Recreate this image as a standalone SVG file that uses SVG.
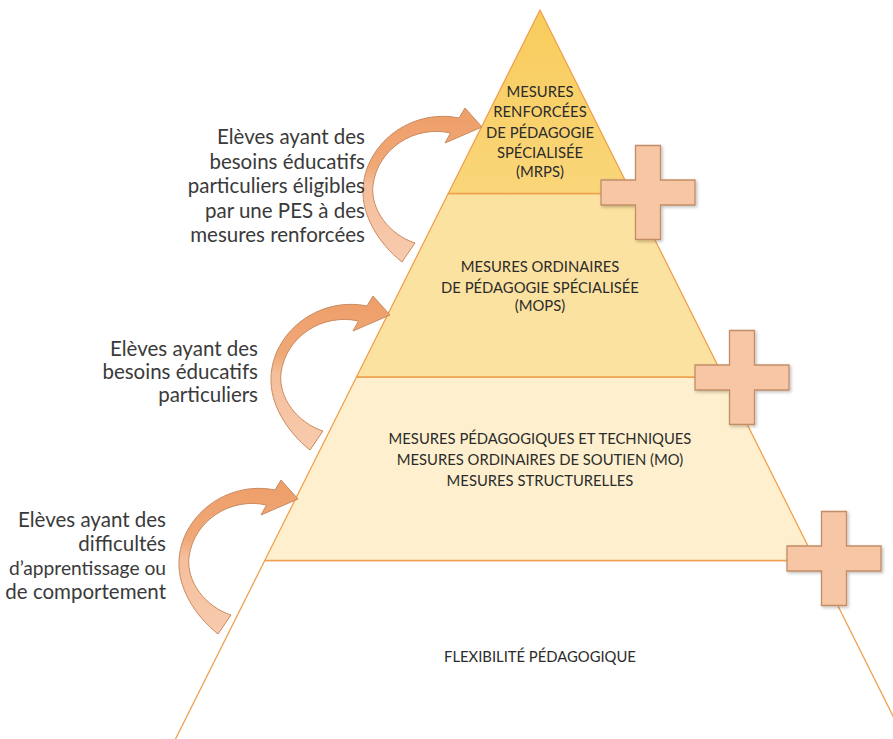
<svg xmlns="http://www.w3.org/2000/svg" width="893" height="739" viewBox="0 0 893 739">
<style>
.layer{stroke:#F0A04E;stroke-width:1.3;stroke-linejoin:round}
.lt{font-family:Lato,"Liberation Sans",sans-serif;font-size:14.8px;fill:#2b2b2b;text-anchor:middle}
.st{font-family:Lato,"Liberation Sans",sans-serif;font-size:20.5px;fill:#3a3a3a;text-anchor:end}
.cross{fill:#F7C6A5;stroke:#C38D66;stroke-width:1.3}
.arrow{fill:url(#ag);stroke:#C98B60;stroke-width:1}
</style>
<defs>
<linearGradient id="g1" x1="0" y1="0" x2="0" y2="1">
<stop offset="0" stop-color="#F8CC5C"/><stop offset="1" stop-color="#FAD67A"/>
</linearGradient>
<linearGradient id="ag" x1="0" y1="0" x2="0" y2="1">
<stop offset="0" stop-color="#EE9E69"/><stop offset="0.38" stop-color="#F0A877"/><stop offset="0.5" stop-color="#F5BE9B"/><stop offset="1" stop-color="#F8CBAE"/>
</linearGradient>
<filter id="sh" x="-20%" y="-20%" width="140%" height="140%">
<feDropShadow dx="1.5" dy="1.5" stdDeviation="1.5" flood-color="#000" flood-opacity="0.25"/>
</filter>
<path id="arrowShape" class="arrow" d="M402,262 C378,243 362,215 363,190 C364,145 410,108 459,118 L465,108 L482,127 L445,143 L450.5,133 C415,125 378,148 373,185 C370,210 390,235 415,243 Z"/>
<path id="crossShape" class="cross" d="M-12.5,-47 H12.5 V-12.5 H47 V12.5 H12.5 V47 H-12.5 V12.5 H-47 V-12.5 H-12.5 Z"/>
</defs>
<rect width="893" height="739" fill="#FFFFFF"/>

<g id="layer-flexibilite">
<polygon class="layer" fill="#FFFFFF" points="264.75,560.5 815.25,560.5 907,744 173,744"/>
<text class="lt" x="540" y="662">FLEXIBILITÉ PÉDAGOGIQUE</text>
</g>
<g id="layer-mo">
<polygon class="layer" fill="#FEF0CE" points="356.5,377 723.5,377 815.25,560.5 264.75,560.5"/>
<text class="lt" x="540" y="444">MESURES PÉDAGOGIQUES ET TECHNIQUES</text>
<text class="lt" x="540" y="465">MESURES ORDINAIRES DE SOUTIEN (MO)</text>
<text class="lt" x="540" y="486">MESURES STRUCTURELLES</text>
</g>
<g id="layer-mops">
<polygon class="layer" fill="#FCE2A0" points="448.25,193.5 631.75,193.5 723.5,377 356.5,377"/>
<text class="lt" x="540" y="272">MESURES ORDINAIRES</text>
<text class="lt" x="540" y="292.5">DE PÉDAGOGIE SPÉCIALISÉE</text>
<text class="lt" x="540" y="311">(MOPS)</text>
</g>
<g id="layer-mrps">
<polygon class="layer" fill="url(#g1)" points="540,10 631.75,193.5 448.25,193.5"/>
<text class="lt" x="540" y="97">MESURES</text>
<text class="lt" x="540" y="117">RENFORCÉES</text>
<text class="lt" x="540" y="137.5">DE PÉDAGOGIE</text>
<text class="lt" x="540" y="158">SPÉCIALISÉE</text>
<text class="lt" x="540" y="177">(MRPS)</text>
</g>

<g id="plus-1" filter="url(#sh)"><use href="#crossShape" transform="translate(648,192.5)"/></g>
<g id="plus-2" filter="url(#sh)"><use href="#crossShape" transform="translate(742,377.5)"/></g>
<g id="plus-3" filter="url(#sh)"><use href="#crossShape" transform="translate(834,558.5)"/></g>

<g id="connectors">
<use href="#arrowShape"/>
<use href="#arrowShape" transform="translate(-92,188)"/>
<use href="#arrowShape" transform="translate(-184,372)"/>
</g>

<g id="label-pes">
<text class="st" x="365" y="144">Elèves ayant des</text>
<text class="st" x="365" y="168.5">besoins éducatifs</text>
<text class="st" x="365" y="193">particuliers éligibles</text>
<text class="st" x="365" y="217.5">par une PES à des</text>
<text class="st" x="365" y="242">mesures renforcées</text>
</g>
<g id="label-bep">
<text class="st" x="258" y="356">Elèves ayant des</text>
<text class="st" x="258" y="379">besoins éducatifs</text>
<text class="st" x="258" y="402">particuliers</text>
</g>
<g id="label-difficultes">
<text class="st" x="166" y="527">Elèves ayant des</text>
<text class="st" x="166" y="551">difficultés</text>
<text class="st" x="166" y="575" style="font-size:19.2px">d’apprentissage ou</text>
<text class="st" x="166" y="599">de comportement</text>
</g>
</svg>
